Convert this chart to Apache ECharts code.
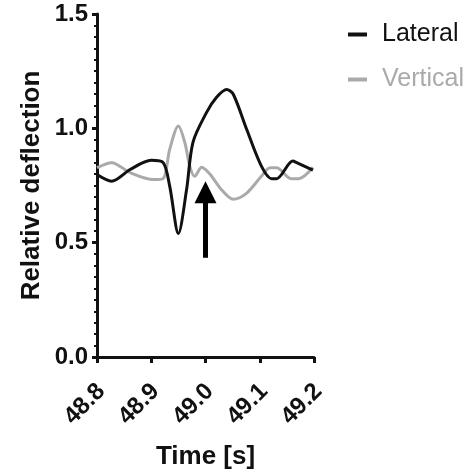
<!DOCTYPE html>
<html><head><meta charset="utf-8">
<script src="https://cdn.jsdelivr.net/npm/echarts@6/dist/echarts.min.js"></script>
<style>html,body{margin:0;padding:0;background:#fff}#c{width:473px;height:473px}</style>
</head><body><div id="c"></div>
<script>
var xTicks = [48.8, 48.9, 49.0, 49.1, 49.2];
var yTicks = [0.0, 0.5, 1.0, 1.5];
var lateralT = [48.800, 48.827, 48.861, 48.900, 48.922, 48.934, 48.950, 48.965, 48.977, 49.002, 49.020, 49.039, 49.051, 49.076, 49.103, 49.122, 49.131, 49.161, 49.168, 49.198];
var lateralV = [0.798, 0.769, 0.820, 0.860, 0.850, 0.747, 0.540, 0.730, 0.940, 1.070, 1.135, 1.170, 1.150, 0.995, 0.835, 0.780, 0.780, 0.857, 0.850, 0.817];
var verticalT = [48.800, 48.827, 48.861, 48.904, 48.922, 48.934, 48.950, 48.962, 48.971, 48.980, 48.993, 49.008, 49.030, 49.051, 49.076, 49.103, 49.119, 49.131, 49.158, 49.172, 49.198];
var verticalV = [0.828, 0.850, 0.806, 0.776, 0.780, 0.908, 1.010, 0.937, 0.835, 0.790, 0.830, 0.800, 0.730, 0.690, 0.717, 0.790, 0.828, 0.828, 0.780, 0.780, 0.830];
var arrowT = [49.0, 49.0];
var arrowV = [0.434, 0.72];

function pairs(t, v){ return t.map(function(x,i){ return [x, v[i]]; }); }

var chart = echarts.init(document.getElementById('c'));
var font = 'Liberation Sans, Arial, sans-serif';
chart.setOption({
  animation: false,
  grid: {left: 97, right: 159, top: 14, bottom: 116, containLabel: false, outerBoundsMode: 'none'},
  legend: {
    orient: 'vertical', left: 348, top: 22, itemGap: 20, padding: 0,
    icon: 'rect', itemWidth: 19, itemHeight: 4,
    textStyle: {fontFamily: font, fontSize: 25, padding: [0, 0, 0, 10]},
    data: [
      {name: 'Lateral', textStyle: {color: '#111'}},
      {name: 'Vertical', textStyle: {color: '#aaa'}}
    ]
  },
  xAxis: {
    type: 'value', min: xTicks[0], max: xTicks[xTicks.length-1], interval: 0.1,
    name: 'Time [s]', nameLocation: 'middle', nameGap: 87,
    nameTextStyle: {fontFamily: font, fontSize: 26, fontWeight: 'bold', color: '#111'},
    axisLine: {lineStyle: {color: '#111', width: 3}},
    axisTick: {show: true, length: 6, lineStyle: {width: 3, color: '#111'}},
    axisLabel: {rotate: 45, align: 'right', verticalAlign: 'top', fontFamily: font, fontSize: 24, fontWeight: 'bold', color: '#111', margin: 18,
      padding: [0, 6, 0, 0],
      formatter: function(v){ return v.toFixed(1); }},
    splitLine: {show: false}
  },
  yAxis: {
    type: 'value', min: yTicks[0], max: yTicks[yTicks.length-1], interval: 0.5,
    name: 'Relative deflection', nameLocation: 'middle', nameGap: 52, nameRotate: 90,
    nameTextStyle: {fontFamily: font, fontSize: 26, fontWeight: 'bold', color: '#111'},
    axisLine: {show: true, lineStyle: {color: '#111', width: 3}},
    axisTick: {show: true, length: 5, lineStyle: {width: 3, color: '#111'}},
    minorTick: {show: true, splitNumber: 10, length: 3, lineStyle: {width: 2, color: '#111'}},
    axisLabel: {fontFamily: font, fontSize: 24, fontWeight: 'bold', color: '#111', margin: 9,
      formatter: function(v){ return v.toFixed(1); }},
    splitLine: {show: false}
  },
  series: [
    {name: 'Vertical', type: 'line', data: pairs(verticalT, verticalV), smooth: 0.3, showSymbol: false,
      itemStyle: {color: '#aaa'}, lineStyle: {color: '#aaa', width: 3}, z: 2},
    {name: 'Lateral', type: 'line', data: pairs(lateralT, lateralV), smooth: 0.3, showSymbol: false,
      itemStyle: {color: '#111'}, lineStyle: {color: '#111', width: 3}, z: 3,
      markLine: {
        silent: true, animation: false,
        symbol: ['none', 'triangle'], symbolSize: [22, 22],
        label: {show: false},
        lineStyle: {color: '#000', width: 5, type: 'solid'},
        data: [[{coord: [arrowT[0], arrowV[0]], symbol: 'none'}, {coord: [arrowT[1], arrowV[1]], symbol: 'triangle'}]]
      }}
  ]
});
</script></body></html>
